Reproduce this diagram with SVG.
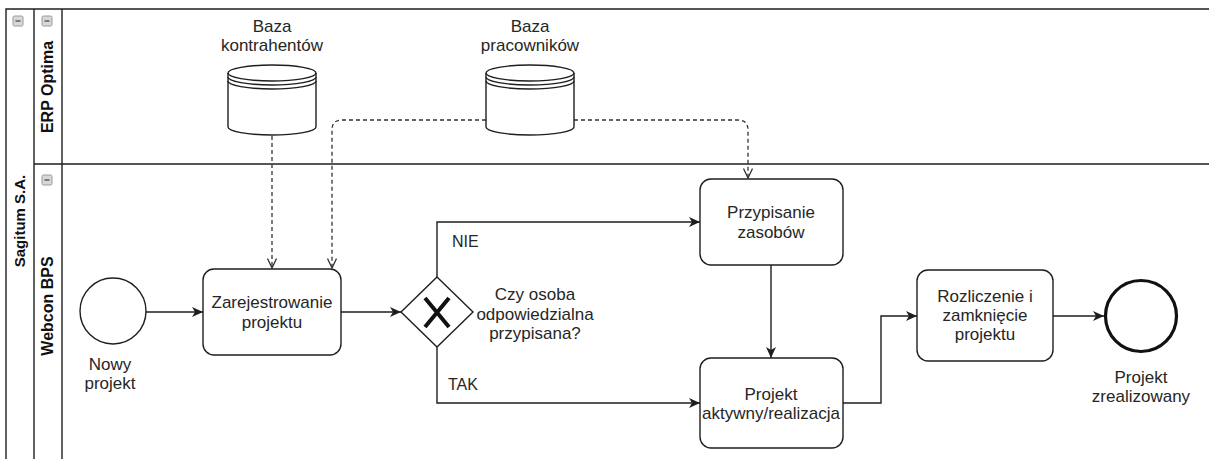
<svg xmlns="http://www.w3.org/2000/svg" width="1209" height="459" viewBox="0 0 1209 459">
<style>
text{font-family:"Liberation Sans",Arial,sans-serif;font-size:17px;fill:#262626;text-anchor:middle}
.b{font-weight:bold;fill:#111;font-size:16px}
.l{fill:none;stroke:#1e1e1e;stroke-width:1.4}
.node{fill:#fff;stroke:#1e1e1e;stroke-width:1.4}
.flow{fill:none;stroke:#1e1e1e;stroke-width:1.4;marker-end:url(#arr)}
.msg{fill:none;stroke:#333;stroke-width:1.3;stroke-dasharray:4 3;marker-end:url(#open)}
.ico{fill:#d8d8d8;stroke:#9a9a9a;stroke-width:1}
.min{stroke:#555;stroke-width:1.4}
</style>
<defs>
<marker id="arr" markerUnits="userSpaceOnUse" markerWidth="12" markerHeight="10" refX="11" refY="5" orient="auto">
<path d="M0,0 L11,5 L0,10 L3,5 Z" fill="#1e1e1e"/>
</marker>
<marker id="open" markerUnits="userSpaceOnUse" markerWidth="12" markerHeight="12" refX="10" refY="5" orient="auto">
<path d="M0.5,0.5 L10,5 L0.5,9.5" fill="none" stroke="#333" stroke-width="1.3"/>
</marker>
</defs>
<rect width="1209" height="459" fill="#fff"/>
<g id="pool">
<path class="l" d="M6,470 L6,9 L1215,9" stroke-width="2"/>
<line class="l" x1="34" y1="9" x2="34" y2="470"/>
<line class="l" x1="62" y1="9" x2="62" y2="470"/>
<line class="l" x1="34" y1="164" x2="1215" y2="164"/>
<rect class="ico" x="13" y="16" width="10" height="10" rx="1.5"/><line class="min" x1="15.5" y1="21" x2="20.5" y2="21"/>
<rect class="ico" x="42" y="16" width="10" height="10" rx="1.5"/><line class="min" x1="44.5" y1="21" x2="49.5" y2="21"/>
<rect class="ico" x="42" y="175" width="10" height="10" rx="1.5"/><line class="min" x1="44.5" y1="180" x2="49.5" y2="180"/>
<text class="b" transform="translate(25,221) rotate(-90)" style="font-size:15px">Sagitum S.A.</text>
<text class="b" transform="translate(53,87) rotate(-90)">ERP Optima</text>
<text class="b" transform="translate(53,306) rotate(-90)">Webcon BPS</text>
</g>
<g id="connectors">
<path class="msg" d="M272,136 L272,268"/>
<path class="msg" d="M486,120 L342,120 Q332,120 332,130 L332,268"/>
<path class="msg" d="M574,120 L738,120 Q748,120 748,130 L748,178"/>
<path class="flow" d="M146,312 L203,312"/>
<path class="flow" d="M341,312 L401,312"/>
<path class="flow" d="M437,277 L437,222 L700,222"/>
<path class="flow" d="M437,347 L437,403 L700,403"/>
<path class="flow" d="M771,265 L771,358"/>
<path class="flow" d="M843,403 L881,403 L881,316 L917,316"/>
<path class="flow" d="M1053,316 L1104,316"/>
<text x="452" y="247" style="text-anchor:start;font-size:16px">NIE</text>
<text x="448" y="390" style="text-anchor:start;font-size:16px">TAK</text>
</g>
<g id="db1">
<path class="node" d="M228,73 A44,8 0 0 1 316,73 L316,127 A44,8 0 0 1 228,127 Z"/>
<path class="l" d="M228,73 A44,8 0 0 0 316,73 M228,77 A44,8 0 0 0 316,77 M228,81 A44,8 0 0 0 316,81"/>
<text x="272" y="32">Baza</text>
<text x="272" y="51">kontrahentów</text>
</g>
<g id="db2">
<path class="node" d="M486,73 A44,8 0 0 1 574,73 L574,127 A44,8 0 0 1 486,127 Z"/>
<path class="l" d="M486,73 A44,8 0 0 0 574,73 M486,77 A44,8 0 0 0 574,77 M486,81 A44,8 0 0 0 574,81"/>
<text x="530" y="32">Baza</text>
<text x="530" y="51">pracowników</text>
</g>
<g id="start">
<circle class="node" cx="113" cy="311" r="33"/>
<text x="110" y="370">Nowy</text>
<text x="110" y="389">projekt</text>
</g>
<g id="zarejestrowanie">
<rect class="node" x="203" y="269" width="138" height="86" rx="11"/>
<text x="272" y="308">Zarejestrowanie</text>
<text x="272" y="328">projektu</text>
</g>
<g id="gateway">
<polygon class="node" points="437,277 473,312 437,347 401,312"/>
<path d="M425,298 L449,327 M449,298 L425,327" stroke="#111" stroke-width="4" fill="none"/>
<text x="535" y="300">Czy osoba</text>
<text x="535" y="320">odpowiedzialna</text>
<text x="535" y="339">przypisana?</text>
</g>
<g id="przypisanie">
<rect class="node" x="700" y="179" width="143" height="86" rx="11"/>
<text x="771" y="218">Przypisanie</text>
<text x="771" y="238">zasobów</text>
</g>
<g id="aktywny">
<rect class="node" x="700" y="358" width="143" height="90" rx="11"/>
<text x="771" y="400">Projekt</text>
<text x="771" y="419">aktywny/realizacja</text>
</g>
<g id="rozliczenie">
<rect class="node" x="917" y="270" width="136" height="91" rx="11"/>
<text x="985" y="302">Rozliczenie i</text>
<text x="985" y="321">zamknięcie</text>
<text x="985" y="340">projektu</text>
</g>
<g id="end">
<circle cx="1141" cy="316" r="35.5" fill="#fff" stroke="#111" stroke-width="3.2"/>
<text x="1141" y="383">Projekt</text>
<text x="1141" y="402">zrealizowany</text>
</g>
</svg>
